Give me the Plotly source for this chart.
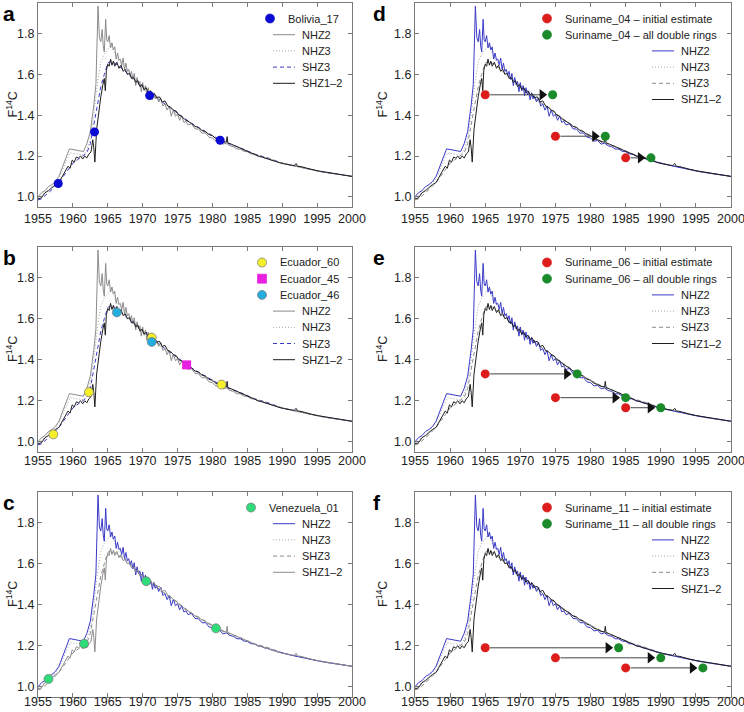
import plotly.graph_objects as go

# atmospheric bomb-curve zones (year, F14C)
nhz2_year = [1955.0, 1955.5, 1956.0, 1956.5, 1957.0, 1957.5, 1958.0, 1958.5, 1959.0, 1959.5,
             1960.0, 1960.5, 1961.0, 1961.5, 1962.0, 1962.5, 1963.0, 1963.3, 1963.6, 1963.8,
             1964.0, 1964.2, 1964.35, 1964.5, 1964.7, 1964.85, 1965.0, 1965.2, 1965.4, 1965.6,
             1965.8, 1966.0, 1966.2, 1966.4, 1966.6, 1966.8, 1967.0, 1967.2, 1967.4, 1967.6,
             1967.8, 1968.0, 1968.2, 1968.4, 1968.6, 1968.8, 1969.0, 1969.2, 1969.4, 1969.6,
             1969.8, 1970.0, 1970.2, 1970.4, 1970.6, 1970.8, 1971.0, 1971.2, 1971.4, 1971.6,
             1971.8, 1972.0, 1972.3, 1972.6, 1972.9, 1973.2, 1973.5, 1973.8, 1974.1, 1974.4,
             1974.7, 1975.0, 1975.3, 1975.6, 1975.9, 1976.2, 1976.5, 1977.0, 1977.5, 1978.0,
             1978.5, 1979.0, 1979.5, 1980.0, 1980.5, 1981.0, 1981.5, 1982.0, 1982.5, 1983.0,
             1983.5, 1984.0, 1984.5, 1985.0, 1985.5, 1986.0, 1986.5, 1987.0, 1987.5, 1988.0,
             1988.5, 1989.0, 1989.5, 1990.0, 1991.0, 1992.0, 1993.0, 1994.0, 1995.0, 1996.0,
             1997.0, 1998.0, 1999.0, 2000.0]
nhz2_f14c = [1.000, 1.020, 1.030, 1.050, 1.060, 1.075, 1.100, 1.150, 1.190, 1.235,
             1.232, 1.230, 1.225, 1.222, 1.260, 1.320, 1.450, 1.550, 1.935, 1.780,
             1.760, 1.820, 1.740, 1.710, 1.870, 1.770, 1.760, 1.790, 1.730, 1.755,
             1.720, 1.735, 1.675, 1.705, 1.670, 1.675, 1.645, 1.680, 1.625, 1.655,
             1.615, 1.625, 1.595, 1.615, 1.575, 1.605, 1.545, 1.585, 1.550, 1.565,
             1.515, 1.560, 1.520, 1.545, 1.495, 1.535, 1.500, 1.515, 1.475, 1.510,
             1.480, 1.495, 1.465, 1.485, 1.445, 1.455, 1.425, 1.445, 1.395, 1.425,
             1.395, 1.405, 1.375, 1.395, 1.365, 1.370, 1.352, 1.358, 1.333, 1.332,
             1.312, 1.313, 1.292, 1.288, 1.272, 1.276, 1.258, 1.263, 1.250, 1.246,
             1.234, 1.234, 1.223, 1.221, 1.210, 1.209, 1.199, 1.197, 1.189, 1.186,
             1.179, 1.176, 1.169, 1.166, 1.156, 1.148, 1.140, 1.133, 1.127, 1.121,
             1.115, 1.110, 1.105, 1.100]

shz12_year = [1955.0, 1955.5, 1956.0, 1956.5, 1957.0, 1957.5, 1958.0, 1958.5, 1959.0, 1959.3,
              1959.6, 1959.9, 1960.2, 1960.5, 1960.8, 1961.1, 1961.4, 1961.7, 1962.0, 1962.3,
              1962.6, 1962.85, 1963.0, 1963.15, 1963.4, 1963.7, 1964.0, 1964.3, 1964.5, 1964.65,
              1964.8, 1965.0, 1965.2, 1965.4, 1965.6, 1965.8, 1966.0, 1966.3, 1966.6, 1966.9,
              1967.2, 1967.5, 1967.8, 1968.1, 1968.4, 1968.7, 1969.0, 1969.3, 1969.6, 1969.9,
              1970.2, 1970.5, 1970.8, 1971.1, 1971.4, 1971.7, 1972.0, 1972.4, 1972.8, 1973.2,
              1973.6, 1974.0, 1974.4, 1974.8, 1975.2, 1975.6, 1976.0, 1976.5, 1977.0, 1977.5,
              1978.0, 1978.5, 1979.0, 1979.5, 1980.0, 1980.5, 1981.0, 1981.5, 1982.0, 1982.1,
              1982.2, 1982.7, 1983.2, 1983.7, 1984.2, 1984.7, 1985.2, 1985.7, 1986.2, 1986.7,
              1987.2, 1987.7, 1988.2, 1988.7, 1989.2, 1989.7, 1990.2, 1990.7, 1991.2, 1991.7,
              1992.0, 1992.2, 1992.7, 1993.2, 1994.0, 1995.0, 1996.0, 1997.0, 1998.0, 1999.0,
              2000.0]
shz12_f14c = [0.990, 0.995, 1.020, 1.030, 1.045, 1.060, 1.070, 1.100, 1.130, 1.150,
              1.140, 1.180, 1.170, 1.195, 1.190, 1.200, 1.185, 1.200, 1.190, 1.210,
              1.220, 1.280, 1.240, 1.170, 1.330, 1.420, 1.490, 1.550, 1.580, 1.520,
              1.620, 1.650, 1.640, 1.675, 1.645, 1.665, 1.640, 1.660, 1.630, 1.645,
              1.615, 1.625, 1.600, 1.605, 1.580, 1.585, 1.560, 1.570, 1.540, 1.550,
              1.525, 1.535, 1.510, 1.520, 1.500, 1.505, 1.485, 1.490, 1.465, 1.470,
              1.445, 1.440, 1.425, 1.420, 1.400, 1.395, 1.380, 1.370, 1.360, 1.345,
              1.340, 1.325, 1.320, 1.305, 1.300, 1.285, 1.280, 1.270, 1.268, 1.295,
              1.265, 1.258, 1.250, 1.242, 1.235, 1.226, 1.220, 1.212, 1.206, 1.198,
              1.194, 1.188, 1.182, 1.176, 1.172, 1.166, 1.162, 1.158, 1.155, 1.153,
              1.163, 1.150, 1.148, 1.142, 1.136, 1.128, 1.122, 1.116, 1.110, 1.105,
              1.100]

nhz3_year = [1955.0, 1956.0, 1957.0, 1958.0, 1959.0, 1959.6, 1960.5, 1961.5, 1962.0, 1962.5,
             1963.0, 1963.5, 1964.0, 1964.5, 1965.0, 1965.5, 1966.0, 1966.5, 1967.0, 1968.0,
             1969.0, 1970.0, 1971.0, 1972.0, 1973.0, 1974.0, 1975.0, 1976.0, 1977.0, 1978.0,
             1979.0, 1980.0, 1982.0, 1984.0, 1986.0, 1988.0, 1990.0, 1992.0, 1994.0, 1996.0,
             1998.0, 2000.0]
nhz3_f14c = [0.995, 1.020, 1.050, 1.090, 1.170, 1.215, 1.210, 1.205, 1.230, 1.290,
             1.400, 1.550, 1.660, 1.700, 1.720, 1.750, 1.700, 1.670, 1.650, 1.610,
             1.575, 1.545, 1.510, 1.480, 1.455, 1.430, 1.400, 1.380, 1.355, 1.335,
             1.315, 1.295, 1.260, 1.235, 1.210, 1.190, 1.165, 1.150, 1.135, 1.120,
             1.110, 1.100]

shz3_year = [1955.0, 1955.5, 1956.0, 1957.0, 1958.0, 1959.0, 1960.0, 1961.0, 1962.0, 1962.5,
             1963.0, 1963.5, 1964.0, 1964.5, 1965.0, 1965.5, 1966.0, 1967.0, 1968.0, 1969.0,
             1970.0, 1971.0, 1972.0, 1973.0, 1974.0, 1975.0, 1976.0, 1977.0, 1978.0, 1979.0,
             1980.0, 1982.0, 1984.0, 1986.0, 1988.0, 1990.0, 1992.0, 1994.0, 1996.0, 1998.0,
             2000.0]
shz3_f14c = [0.985, 0.990, 1.005, 1.035, 1.070, 1.120, 1.165, 1.190, 1.215, 1.260,
             1.360, 1.460, 1.540, 1.600, 1.655, 1.665, 1.655, 1.630, 1.600, 1.570,
             1.540, 1.510, 1.485, 1.460, 1.435, 1.410, 1.385, 1.360, 1.340, 1.320,
             1.300, 1.265, 1.240, 1.210, 1.190, 1.165, 1.150, 1.135, 1.120, 1.110,
             1.100]

# tree-ring samples
bolivia17_year = [1957.9, 1963.1, 1971.0, 1981.1]
bolivia17_f14c = [1.065, 1.318, 1.496, 1.277]
ecuador60_year = [1957.2, 1962.3, 1971.3, 1981.3]
ecuador60_f14c = [1.036, 1.242, 1.508, 1.279]
ecuador45_year = [1976.3]
ecuador45_f14c = [1.375]
ecuador46_year = [1966.3, 1971.3]
ecuador46_f14c = [1.631, 1.487]
venezuela01_year = [1956.5, 1961.6, 1970.5, 1980.5]
venezuela01_f14c = [1.038, 1.210, 1.515, 1.285]

suriname04_initial = [1965.0, 1975.0, 1985.0]
suriname04_double = [1974.6, 1982.1, 1988.6]
suriname04_f14c = [1.500, 1.297, 1.191]
suriname06_initial = [1965.0, 1975.0, 1985.0]
suriname06_double = [1978.1, 1985.0, 1990.0]
suriname06_f14c = [1.331, 1.215, 1.166]
suriname11_initial = [1965.0, 1975.0, 1985.0]
suriname11_double = [1984.0, 1990.0, 1996.0]
suriname11_f14c = [1.190, 1.141, 1.092]

x_ticks = [1955, 1960, 1965, 1970, 1975, 1980, 1985, 1990, 1995, 2000]
y_ticks = [1.0, 1.2, 1.4, 1.6, 1.8]
zone_names = ["NHZ2", "NHZ3", "SHZ3", "SHZ1\u20132"]

FONT = "Liberation Sans, Arial, sans-serif"
BLUE = "#3a3ac8"
GREY = "#8c8c8c"
LIGHT = "#a8a8a8"
DARK = "#1e1e1e"
RED = "#dd1c1c"
GREEN = "#1a8a2a"
DOT = "1px,2px"
DASH = "4px,3px"

W, H = 744, 712
ML, MR, MT, MB = 38, 13, 3, 15
PW, PH = W - ML - MR, H - MT - MB


def px(x):
    return (x - ML) / PW


def py(y):
    return 1 - (y - MT) / PH


cols = [(38, 352), (415, 731)]
rows = [(3, 207), (247, 452), (492, 697)]
label_standoff = [0, -3, -7]
panels = {"a": (0, 0), "b": (0, 1), "c": (0, 2), "d": (1, 0), "e": (1, 1), "f": (1, 2)}
# distance of legend marker from the panel's right edge
marker_offset = {"a": 82, "b": 90, "c": 101, "d": 184, "e": 184, "f": 184}

old_style = [(GREY, "solid"), (LIGHT, DOT), (BLUE, DASH), (DARK, "solid")]
blue_style = [(BLUE, "solid"), (LIGHT, DOT), (GREY, DASH), (DARK, "solid")]
c_style = [(BLUE, "solid"), (LIGHT, DOT), (GREY, DASH), (GREY, "solid")]

fig = go.Figure()
layout = {}
annotations = []
shapes = []


def curves(n, styles):
    xs = [nhz2_year, nhz3_year, shz3_year, shz12_year]
    ys = [nhz2_f14c, nhz3_f14c, shz3_f14c, shz12_f14c]
    for i in [2, 1, 0, 3]:
        color, dash = styles[i]
        fig.add_trace(go.Scatter(
            x=xs[i], y=ys[i], mode="lines", name=zone_names[i], showlegend=False,
            line=dict(color=color, width=1, dash=dash),
            xaxis="x%d" % n, yaxis="y%d" % n))


def points(n, name, xs, ys, color, symbol="circle", outline=None):
    fig.add_trace(go.Scatter(
        x=xs, y=ys, mode="markers", name=name, showlegend=False,
        marker=dict(color=color, size=9, symbol=symbol,
                    line=dict(color=outline or color, width=0.7 if outline else 0)),
        xaxis="x%d" % n, yaxis="y%d" % n))


def arrows(n, start, end, ys):
    # shaft from just after the initial estimate to just before the corrected year
    sx, sy = [], []
    for x0, x1, yv in zip(start, end, ys):
        sx += [x0 + 0.7, x1 - 1.5, None]
        sy += [yv, yv, None]
    fig.add_trace(go.Scatter(x=sx, y=sy, mode="lines", showlegend=False,
                             line=dict(color="#444444", width=1),
                             xaxis="x%d" % n, yaxis="y%d" % n))
    fig.add_trace(go.Scatter(x=[x - 1.5 for x in end], y=ys, mode="markers",
                             showlegend=False,
                             marker=dict(symbol="triangle-right", size=10, color="#111111"),
                             xaxis="x%d" % n, yaxis="y%d" % n))


def legend_text(x, y, text):
    annotations.append(dict(text=text, xref="paper", yref="paper", x=px(x), y=py(y),
                            xanchor="left", yanchor="middle", showarrow=False,
                            font=dict(size=11, color="#222222", family=FONT)))


def legend(key, right, top, markers, styles):
    row = 0
    for name, color, symbol, outline in markers:
        y = top + 15.5 + 16.2 * row
        x = right - marker_offset[key]
        r = 4.5
        shapes.append(dict(type="circle" if symbol == "circle" else "rect",
                           xref="paper", yref="paper",
                           x0=px(x - r), x1=px(x + r), y0=py(y + r), y1=py(y - r),
                           fillcolor=color, line=dict(color=outline or color, width=0.7)))
        legend_text(x + 16, y, name)
        row += 1
    for i, (color, dash) in enumerate(styles):
        y = top + 15.5 + 16.2 * row
        shapes.append(dict(type="line", xref="paper", yref="paper",
                           x0=px(right - 79), x1=px(right - 57), y0=py(y), y1=py(y),
                           line=dict(color=color, width=1, dash=dash)))
        legend_text(right - 52, y, zone_names[i])
        row += 1


for n, key in enumerate(["a", "b", "c", "d", "e", "f"], start=1):
    col, row = panels[key]
    x0, x1 = cols[col]
    y0, y1 = rows[row]
    styles = {"a": old_style, "b": old_style, "c": c_style}.get(key, blue_style)
    curves(n, styles)

    if key == "a":
        marks = [("Bolivia_17", bolivia17_year, bolivia17_f14c, "#0a0ad2", "circle", None)]
    elif key == "b":
        marks = [("Ecuador_60", ecuador60_year, ecuador60_f14c, "#f5f02a", "circle", "#777777"),
                 ("Ecuador_45", ecuador45_year, ecuador45_f14c, "#e81ee0", "square", None),
                 ("Ecuador_46", ecuador46_year, ecuador46_f14c, "#24aee0", "circle", "#777777")]
    elif key == "c":
        marks = [("Venezuela_01", venezuela01_year, venezuela01_f14c, "#2fdc7a", "circle", "#777777")]
    else:
        label, init, dbl, f14c = {
            "d": ("Suriname_04", suriname04_initial, suriname04_double, suriname04_f14c),
            "e": ("Suriname_06", suriname06_initial, suriname06_double, suriname06_f14c),
            "f": ("Suriname_11", suriname11_initial, suriname11_double, suriname11_f14c)}[key]
        arrows(n, init, dbl, f14c)
        marks = [(label + " \u2013 initial estimate", init, f14c, RED, "circle", None),
                 (label + " \u2013 all double rings", dbl, f14c, GREEN, "circle", None)]
    for name, xs, ys, color, symbol, outline in marks:
        points(n, name, xs, ys, color, symbol, outline)
    legend(key, x1, y0, [(m[0], m[3], m[4], m[5]) for m in marks], styles)

    axis = dict(showline=True, linecolor="#7a7a7a", linewidth=1, mirror="ticks",
                ticks="inside", ticklen=4, tickcolor="#7a7a7a", showgrid=False,
                zeroline=False, automargin=False, ticklabeloverflow="allow",
                tickfont=dict(size=12.5, color="#222222", family=FONT))
    layout["xaxis%d" % n] = dict(axis, domain=[px(x0), px(x1)], range=[1955, 2000],
                                 tickvals=x_ticks, anchor="y%d" % n,
                                 ticklabelstandoff=label_standoff[row])
    layout["yaxis%d" % n] = dict(axis, domain=[py(y1), py(y0)], range=[0.95, 1.95],
                                 tickvals=y_ticks, tickformat=".1f", anchor="x%d" % n)

    annotations.append(dict(text="<b>%s</b>" % key, xref="paper", yref="paper",
                            x=px(x0 - (37 if col == 0 else 44)), y=py(max(y0 - 3, 0)),
                            xanchor="left", yanchor="top", showarrow=False,
                            font=dict(size=21, color="#000000", family=FONT)))
    annotations.append(dict(text="F<sup>14</sup>C", xref="paper", yref="paper",
                            x=px(x0 - (26.5 if col == 0 else 33.5)), y=py((y0 + y1) / 2),
                            textangle=-90, xanchor="center", yanchor="middle",
                            showarrow=False,
                            font=dict(size=12.5, color="#222222", family=FONT)))

fig.update_layout(
    width=W, height=H,
    margin=dict(l=ML, r=MR, t=MT, b=MB, autoexpand=False),
    paper_bgcolor="white", plot_bgcolor="white",
    font=dict(family=FONT, size=12, color="#222222"),
    showlegend=False,
    annotations=annotations,
    shapes=shapes,
    **layout)

# the page's default 8px body margin would push the figure past the window
fig.write_html("out.html", config={"displayModeBar": False},
               post_script="document.body.style.margin = '0';")
